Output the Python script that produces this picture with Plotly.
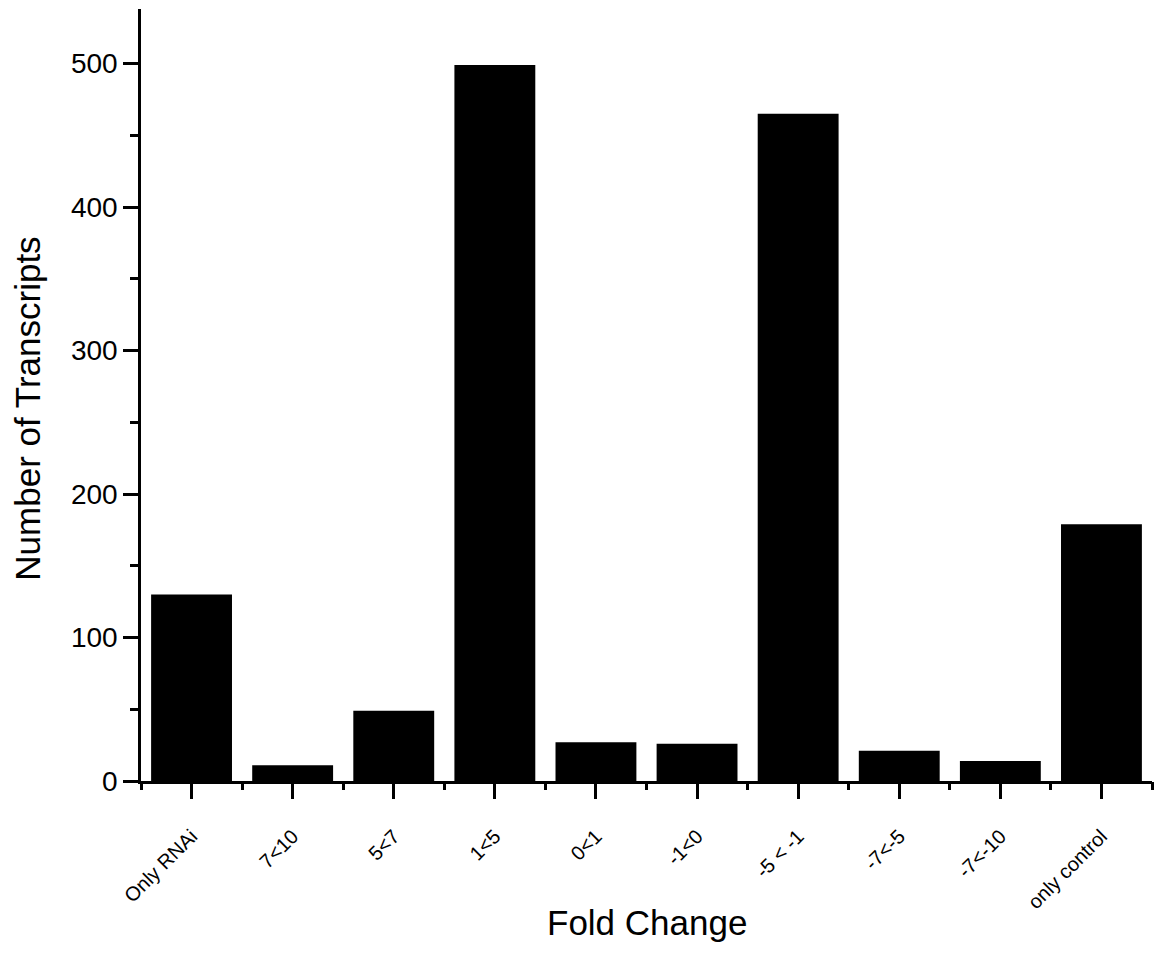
import plotly.graph_objects as go

# Transcript counts per fold-change bin
categories = ["Only RNAi", "7<10", "5<7", "1<5", "0<1", "-1<0",
              "-5 < -1", "-7<-5", "-7<-10", "only control"]
counts = [130, 11, 49, 499, 27, 26, 465, 21, 14, 179]

y_major = [0, 100, 200, 300, 400, 500]

positions = list(range(len(categories)))
boundaries = [p - 0.5 for p in positions] + [positions[-1] + 0.5]
x_range = [-0.5, len(categories) - 0.5]

FONT = "Liberation Sans, Arial, sans-serif"

fig = go.Figure()

fig.add_trace(
    go.Bar(
        x=positions,
        y=counts,
        width=0.8,
        marker=dict(color="black", line=dict(color="black", width=0)),
        hovertext=categories,
    )
)

# invisible carrier trace for the short boundary ticks on the secondary x axis
fig.add_trace(
    go.Scatter(
        x=boundaries,
        y=[0] * len(boundaries),
        xaxis="x2",
        mode="markers",
        marker=dict(opacity=0),
        hoverinfo="skip",
        showlegend=False,
    )
)

fig.update_layout(
    width=1158,
    height=953,
    margin=dict(l=141, r=6, t=9, b=172),
    paper_bgcolor="white",
    plot_bgcolor="white",
    showlegend=False,
    font=dict(family=FONT, color="black"),
    xaxis=dict(
        range=x_range,
        tickmode="array",
        tickvals=positions,
        ticktext=categories,
        tickangle=-45,
        tickfont=dict(family=FONT, size=20, color="black"),
        ticklabelstandoff=18,
        ticks="outside",
        ticklen=15,
        tickwidth=2.5,
        tickcolor="black",
        showline=True,
        linecolor="black",
        linewidth=2.5,
        showgrid=False,
        zeroline=False,
    ),
    xaxis2=dict(
        overlaying="x",
        anchor="y",
        side="bottom",
        range=x_range,
        tickmode="array",
        tickvals=boundaries,
        showticklabels=False,
        ticks="outside",
        ticklen=8,
        tickwidth=2.5,
        tickcolor="black",
        showline=False,
        showgrid=False,
        zeroline=False,
    ),
    yaxis=dict(
        range=[0, 538],
        tickmode="array",
        tickvals=y_major,
        tickfont=dict(family=FONT, size=28, color="black"),
        ticks="outside",
        ticklen=15,
        tickwidth=2.5,
        tickcolor="black",
        showline=True,
        linecolor="black",
        linewidth=2.5,
        showgrid=False,
        zeroline=False,
        minor=dict(dtick=50, tick0=0, ticks="outside", ticklen=8,
                   tickwidth=2.5, tickcolor="black", showgrid=False),
    ),
)

fig.add_annotation(
    text="Number of Transcripts",
    xref="paper", yref="paper",
    x=-0.112, y=0.482,
    xanchor="center", yanchor="middle",
    textangle=-90,
    showarrow=False,
    font=dict(family=FONT, size=35, color="black"),
)

fig.add_annotation(
    text="Fold Change",
    xref="paper", yref="paper",
    x=0.5, y=-0.183,
    xanchor="center", yanchor="middle",
    showarrow=False,
    font=dict(family=FONT, size=35, color="black"),
)

fig.write_html("out.html")
